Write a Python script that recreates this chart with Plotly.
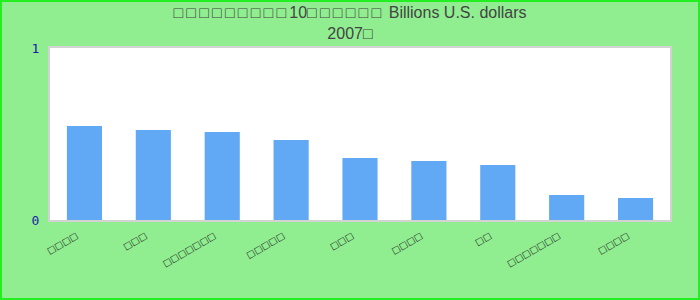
import plotly.graph_objects as go

# Original CJK text rendered as missing-glyph boxes in the reference
categories = ["□□□□", "□□□", "□□□□□□□", "□□□□□", "□□□", "□□□□", "□□", "□□□□□□□", "□□□□"]
values = [0.547, 0.523, 0.512, 0.465, 0.36, 0.343, 0.32, 0.145, 0.128]
title_line1 = ["□□□□□□□□□", "10", "□□□□□□", " Billions U.S. dollars"]
title_line2 = ["2007", "□"]
y_ticks = [0, 1]
y_tick_labels = ["0", "1"]

W, H = 700, 300
L, R, T, B = 50, 30, 48, 80
pw, ph = W - L - R, H - T - B


def spaced(s):
    # missing-glyph boxes are drawn with a little extra advance
    return "".join(ch + "\u2009" if ch == "□" else ch for ch in s)


title_text = "".join(spaced(p) for p in title_line1) + "<br>" + "".join(spaced(p) for p in title_line2)

positions = list(range(len(categories)))

fig = go.Figure(go.Bar(x=positions, y=values, marker_color="#61A9F4",
                       marker_line_width=0, hovertext=categories))

fig.update_layout(
    width=W, height=H,
    margin=dict(l=L, r=R, t=T, b=B, autoexpand=False),
    paper_bgcolor="#90EE90",
    plot_bgcolor="white",
    bargap=0.49,
    showlegend=False,
    title=dict(text=title_text, x=0.5, xanchor="center", y=0.94, yanchor="top",
               font=dict(family="Liberation Sans, Arial, sans-serif", size=16, color="#444444")),
    xaxis=dict(tickangle=-30, showgrid=False, showline=True, linecolor="#d3d3d3",
               linewidth=2, mirror=True, ticks="", range=[-0.5, len(categories) - 0.5],
               tickvals=positions, ticktext=categories, zeroline=False,
               ticklabelstandoff=5, ticklabelshift=-8,
               tickfont=dict(family="DejaVu Sans, sans-serif", size=9, color="#222222")),
    yaxis=dict(range=[0, 1], tickvals=y_ticks, ticktext=y_tick_labels, showgrid=False,
               zeroline=False, showline=True, linecolor="#d3d3d3", linewidth=2, mirror=True,
               ticks="", ticklabelstandoff=6,
               tickfont=dict(family="DejaVu Sans Mono, monospace", size=13, color="#1c1ca8")),
    shapes=[dict(type="rect", xref="paper", yref="paper",
                 x0=(-L + 1) / pw, x1=(pw + R - 1) / pw,
                 y0=(-B + 1) / ph, y1=(ph + T - 1) / ph,
                 line=dict(color="#22EE22", width=2), fillcolor="rgba(0,0,0,0)", layer="above")],
)

fig.write_html("out.html")
